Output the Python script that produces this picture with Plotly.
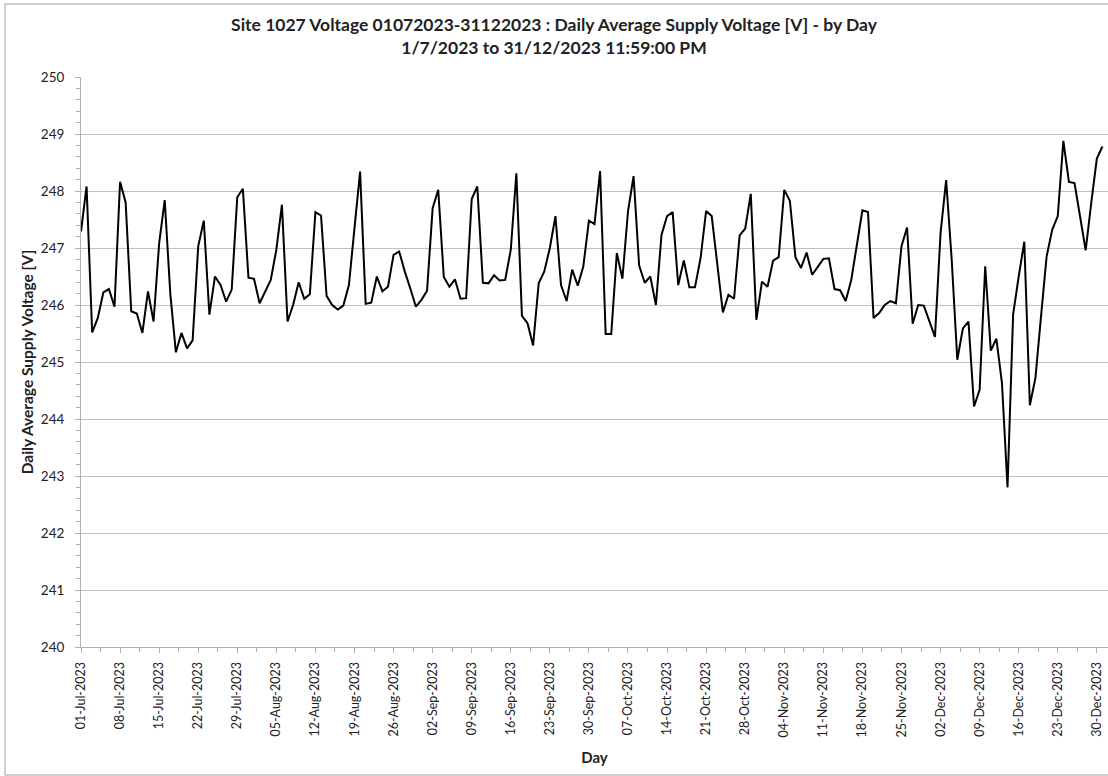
import pandas as pd
import plotly.graph_objects as go

# ---- data ----
start_date = "2023-07-01"
end_date = "2023-12-31"
days = pd.date_range(start_date, end_date, freq="D")

voltage = [
    247.29, 248.08, 245.52, 245.77, 246.22, 246.28, 245.97, 248.16, 247.80, 245.89,
    245.85, 245.51, 246.24, 245.71, 247.08, 247.84, 246.20, 245.17, 245.51, 245.24,
    245.38, 247.03, 247.48, 245.83, 246.50, 246.35, 246.06, 246.27, 247.89, 248.04,
    246.48, 246.46, 246.03, 246.24, 246.44, 246.97, 247.76, 245.71, 246.00, 246.40,
    246.11, 246.19, 247.63, 247.57, 246.16, 246.00, 245.92, 245.99, 246.35, 247.35,
    248.34, 246.02, 246.04, 246.50, 246.24, 246.32, 246.88, 246.94, 246.59, 246.29,
    245.97, 246.09, 246.25, 247.70, 248.02, 246.49, 246.32, 246.45, 246.11, 246.12,
    247.86, 248.08, 246.39, 246.38, 246.52, 246.43, 246.44, 246.97, 248.31, 245.81,
    245.68, 245.29, 246.38, 246.59, 247.00, 247.56, 246.35, 246.07, 246.62, 246.34,
    246.68, 247.48, 247.42, 248.35, 245.49, 245.49, 246.91, 246.46, 247.64, 248.26,
    246.69, 246.39, 246.50, 246.00, 247.23, 247.56, 247.63, 246.35, 246.78, 246.31,
    246.31, 246.82, 247.65, 247.56, 246.72, 245.87, 246.18, 246.11, 247.22, 247.34,
    247.95, 245.74, 246.41, 246.32, 246.78, 246.84, 248.02, 247.83, 246.84, 246.65,
    246.92, 246.53, 246.67, 246.81, 246.82, 246.28, 246.26, 246.07, 246.44, 247.03,
    247.66, 247.63, 245.77, 245.86, 246.00, 246.07, 246.03, 247.03, 247.36, 245.67,
    246.00, 245.99, 245.72, 245.44, 247.26, 248.19, 246.79, 245.04, 245.59, 245.71,
    244.22, 244.51, 246.68, 245.20, 245.41, 244.63, 242.80, 245.83, 246.50, 247.11,
    244.24, 244.72, 245.80, 246.85, 247.32, 247.56, 248.88, 248.16, 248.14, 247.55,
    246.96, 247.79, 248.57, 248.78,
]

y_ticks = [240, 241, 242, 243, 244, 245, 246, 247, 248, 249, 250]

title_line1 = "Site 1027 Voltage 01072023-31122023 : Daily Average Supply Voltage [V] - by Day"
title_line2 = "1/7/2023 to 31/12/2023 11:59:00 PM"
x_title = "Day"
y_title = "Daily Average Supply Voltage [V]"

# ---- figure ----
W, H = 1108, 776
ML, MR, MT, MB = 81, 0, 77, 129
FONT = "Lato, 'Open Sans', sans-serif"
GRID = "#C0C0C0"
AXIS = "#B0B0B0"
TXT = "#222"

fig = go.Figure()
fig.add_trace(go.Scatter(
    x=days, y=voltage, mode="lines",
    line=dict(color="black", width=2),
    hoverinfo="x+y", showlegend=False,
))

DAY_MS = 86400000
fig.update_xaxes(
    type="date",
    range=[pd.Timestamp(start_date), pd.Timestamp(end_date) + pd.Timedelta(days=1)],
    tick0=start_date, dtick=7 * DAY_MS, tickformat="%d-%b-%Y", tickangle=-90,
    ticks="outside", ticklen=5, tickcolor=AXIS, tickwidth=1,
    minor=dict(dtick=3.5 * DAY_MS, tick0=start_date, ticks="outside", ticklen=4,
               tickcolor=AXIS, showgrid=False),
    showgrid=False, showline=True, linecolor=AXIS, linewidth=1,
    tickfont=dict(family=FONT, size=12.5, color=TXT),
    ticklabelstandoff=4,
    title=dict(text=f"<b>{x_title}</b>", font=dict(family=FONT, size=15, color=TXT), standoff=15),
    zeroline=False,
)
fig.update_yaxes(
    range=[240, 250], tickvals=y_ticks,
    ticks="outside", ticklen=5, tickcolor=AXIS, tickwidth=1,
    minor=dict(dtick=0.2, ticks="outside", ticklen=4, tickcolor=AXIS, showgrid=False),
    showgrid=True, gridcolor=GRID, gridwidth=1,
    showline=True, linecolor=AXIS, linewidth=1,
    tickfont=dict(family=FONT, size=13.5, color=TXT),
    ticklabelstandoff=8,
    title=dict(text=f"<b>{y_title}</b>", font=dict(family=FONT, size=15.5, color=TXT), standoff=3),
    zeroline=False,
)

pw = W - ML - MR
ph = H - MT - MB
fig.add_shape(type="rect", xref="paper", yref="paper",
              x0=(5 - ML) / pw, x1=(W + 20 - ML) / pw,
              y0=(H - MB - 775) / ph, y1=(H - MB - 4) / ph,
              line=dict(color="#A0A0A0", width=1), fillcolor="rgba(0,0,0,0)", layer="below")

fig.update_layout(
    width=W, height=H,
    margin=dict(l=ML, r=MR, t=MT, b=MB),
    paper_bgcolor="white", plot_bgcolor="white",
    title=dict(text=f"<b>{title_line1}<br>{title_line2}</b>",
               x=0.5, xanchor="center", yref="container", y=1 - 31 / H, yanchor="middle",
               font=dict(family=FONT, size=17.5, color=TXT)),
)

fig.write_html("out.html", config={"displayModeBar": False},
               post_script="document.body.style.margin='0';")
